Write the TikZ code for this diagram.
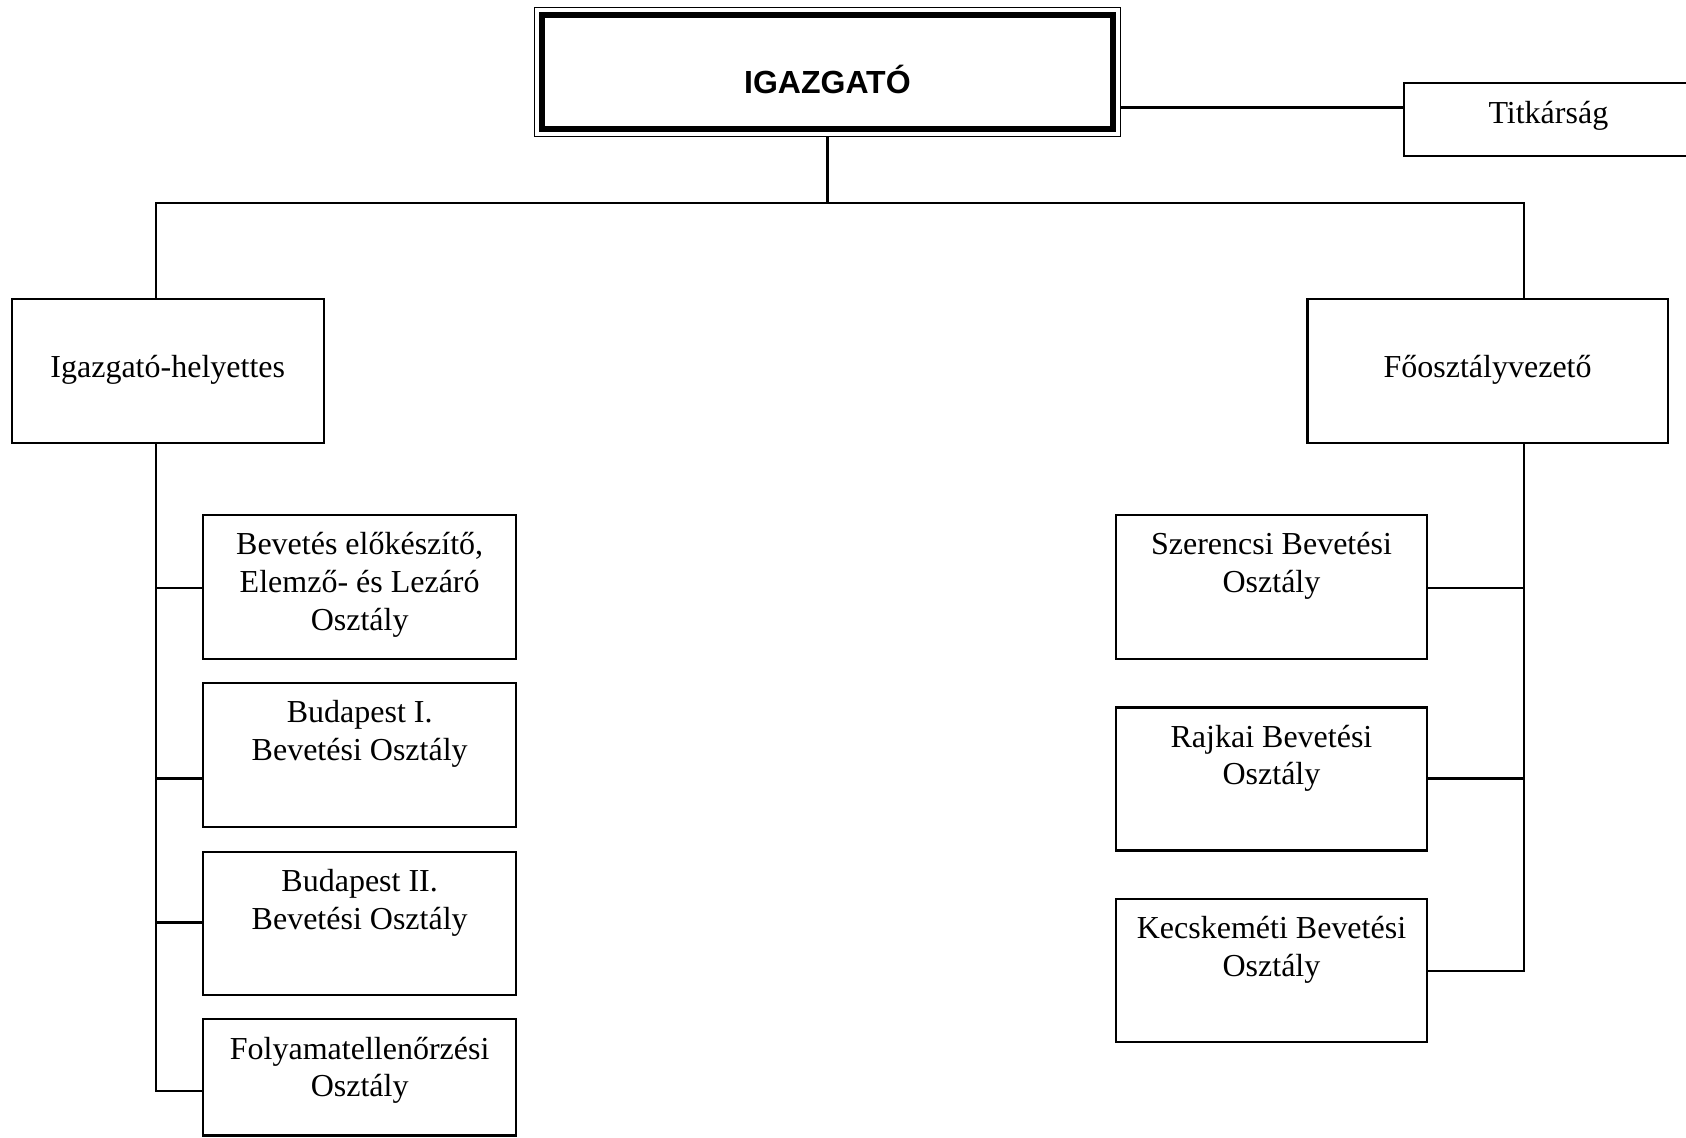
\documentclass[tikz,border=0pt]{standalone}
\usepackage{fontspec}
\setmainfont{Liberation Serif}
\newfontfamily\headfont{Liberation Sans}
\usetikzlibrary{calc}
\def\px{0.53765pt}
\begin{document}
\begin{tikzpicture}[
  x=\px, y=-\px,
  box/.style={draw, line width=1.1pt, rectangle, inner sep=0pt, outer sep=0pt,
              minimum width=#1*\px},
  box/.default=290,
  boxh/.style={minimum height=#1*\px},
  % labels are placed by the baseline of their last line
  lbl/.style={anchor=base, align=center, inner sep=0pt,
              font=\fontsize{16pt}{18.8pt}\selectfont},
  conn/.style={line width=1.1pt},
]
\clip (0,0) rectangle (1568,1058);
\fill[white] (0,0) rectangle (1568,1058);

% director
\node[box=545, boxh=120, line width=0.8pt] (dir) at (769.5,67) {};
\draw[line width=3.2pt] ($(dir.north west)+(7,7)$) rectangle ($(dir.south east)+(-7,-7)$);
\node[lbl, font=\headfont\bfseries\fontsize{16pt}{18.8pt}\selectfont] (dirt) at (769.5,87) {IGAZGATÓ};

% secretariat
\node[box=274, boxh=68] (tit) at (1443,111) {};
\node[lbl] (titt) at (1440,115) {Titkárság};

% deputy and head of department
\node[box=290, boxh=134] (dep) at (156,345) {};
\node[lbl] (dept) at (156,351) {Igazgató-helyettes};
\node[box=335, boxh=134] (fo) at (1383.5,345) {};
\node[lbl] (fot) at (1383.5,351) {Főosztályvezető};

% left column
\node[box=291, boxh=134] (l1) at (334.5,546) {};
\node[lbl] (l1t) at (334.5,586) {Bevetés előkészítő,\\Elemző- és Lezáró\\Osztály};
\node[box=291, boxh=134] (l2) at (334.5,702) {};
\node[lbl] (l2t) at (334.5,707) {Budapest I.\\Bevetési Osztály};
\node[box=291, boxh=133] (l3) at (334.5,858.5) {};
\node[lbl] (l3t) at (334.5,864) {Budapest II.\\Bevetési Osztály};
\node[box=291, boxh=108] (l4) at (334.5,1002) {};
\node[lbl] (l4t) at (334.5,1020) {Folyamatellenőrzési\\Osztály};

% right column
\node[box=289, boxh=134] (r1) at (1182.5,546) {};
\node[lbl] (r1t) at (1182.5,551) {Szerencsi Bevetési\\Osztály};
\node[box=289, boxh=133] (r2) at (1182.5,724.5) {};
\node[lbl] (r2t) at (1182.5,730) {Rajkai Bevetési\\Osztály};
\node[box=289, boxh=133] (r3) at (1182.5,902.5) {};
\node[lbl] (r3t) at (1182.5,908) {Kecskeméti Bevetési\\Osztály};

% bus and trunk points
\coordinate (bus) at (769.5,189);
\coordinate (lbus) at (145,189);
\coordinate (rbus) at (1417,189);
\coordinate (lend) at (145,1015);
\coordinate (rend) at (1417,903);

% connectors
\draw[conn] (dir.south) -- (bus);
\draw[conn] (lbus |- dep.north) -- (lbus) -- (rbus) -- (rbus |- fo.north);
\draw[conn] (dir.east |- 0,100) -- (tit.west |- 0,100);

\draw[conn] (lbus |- dep.south) -- (lend) -- (l4.west |- lend);
\draw[conn] (145,547) -- (l1.west |- 0,547);
\draw[conn] (145,724) -- (l2.west |- 0,724);
\draw[conn] (145,858) -- (l3.west |- 0,858);

\draw[conn] (rbus |- fo.south) -- (rend) -- (r3.east |- rend);
\draw[conn] (1417,547) -- (r1.east |- 0,547);
\draw[conn] (1417,724) -- (r2.east |- 0,724);
\end{tikzpicture}
\end{document}
